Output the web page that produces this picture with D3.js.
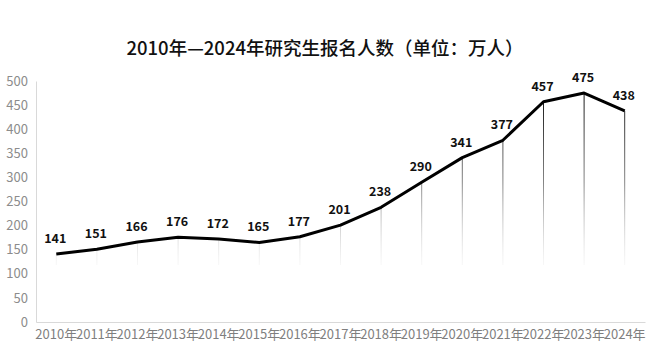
<!DOCTYPE html>
<html><head><meta charset="utf-8">
<script src="https://cdn.jsdelivr.net/npm/d3@7"></script>
<style>
html,body{margin:0;padding:0;background:#fff;}
svg{display:block;}
</style></head>
<body>
<svg id="chart" width="657" height="355"></svg>
<script>
const title = "2010年—2024年研究生报名人数（单位：万人）";
const years = ["2010年","2011年","2012年","2013年","2014年","2015年","2016年","2017年","2018年","2019年","2020年","2021年","2022年","2023年","2024年"];
const applicants = [141,151,166,176,172,165,177,201,238,290,341,377,457,475,438];
const yTicks = [0,50,100,150,200,250,300,350,400,450,500];

(function () {
const svg = d3.select("#chart");
const font = "'Noto Sans CJK SC','Noto Sans',sans-serif";
const mLeft = 36, mRight = 645, mTop = 81, mBottom = 322, dropEnd = 265;

const x = d3.scaleBand().domain(years).range([mLeft, mRight]).padding(0);
const y = d3.scaleLinear().domain([0, 500]).range([mBottom, mTop]);

// title
svg.append("text").attr("x", 325).attr("y", 55).attr("text-anchor", "middle")
  .attr("font-family", font).attr("font-size", 18.5).attr("font-weight", 500).attr("fill", "#111")
  .text(title);

// gradient for drop lines
const defs = svg.append("defs");
const g = defs.append("linearGradient").attr("id", "drop").attr("gradientUnits", "userSpaceOnUse")
  .attr("x1", 0).attr("x2", 0).attr("y1", mTop).attr("y2", dropEnd);
g.append("stop").attr("offset", "0%").attr("stop-color", "#000").attr("stop-opacity", 1);
g.append("stop").attr("offset", "55%").attr("stop-color", "#777").attr("stop-opacity", 0.9);
g.append("stop").attr("offset", "100%").attr("stop-color", "#ccc").attr("stop-opacity", 0.15);

// y axis
const yAxis = svg.append("g").attr("transform", `translate(${mLeft},0)`)
  .call(d3.axisLeft(y).tickValues(yTicks).tickSize(0).tickPadding(8));
yAxis.select(".domain").attr("stroke", "#d9d9d9");
yAxis.selectAll("text").attr("font-family", font).attr("font-size", 13).attr("fill", "#8c8c8c");

// x axis
const xAxis = svg.append("g").attr("transform", `translate(0,${mBottom})`)
  .call(d3.axisBottom(x).tickSize(0).tickPadding(8));
xAxis.select(".domain").attr("stroke", "#d9d9d9");
xAxis.selectAll("text").attr("font-family", font).attr("font-size", 13).attr("fill", "#7f7f7f");

const cx = d => x(d) + x.bandwidth() / 2;

// drop lines
svg.append("g").selectAll("line").data(years).join("line")
  .attr("x1", d => cx(d)).attr("x2", d => cx(d))
  .attr("y1", (d, i) => y(applicants[i])).attr("y2", dropEnd)
  .attr("stroke", "url(#drop)").attr("stroke-width", 1);

// line
const line = d3.line().x((d, i) => cx(years[i])).y(d => y(d));
svg.append("path").datum(applicants).attr("d", line)
  .attr("fill", "none").attr("stroke", "#000").attr("stroke-width", 3).attr("stroke-linejoin", "round");

// labels
svg.append("g").selectAll("text").data(applicants).join("text")
  .attr("x", (d, i) => cx(years[i]) - 1).attr("y", d => y(d) - 11)
  .attr("text-anchor", "middle").attr("font-family", font).attr("font-size", 12.5)
  .attr("font-weight", "bold").attr("fill", "#111")
  .text(d => d);
})();
</script>
</body></html>
